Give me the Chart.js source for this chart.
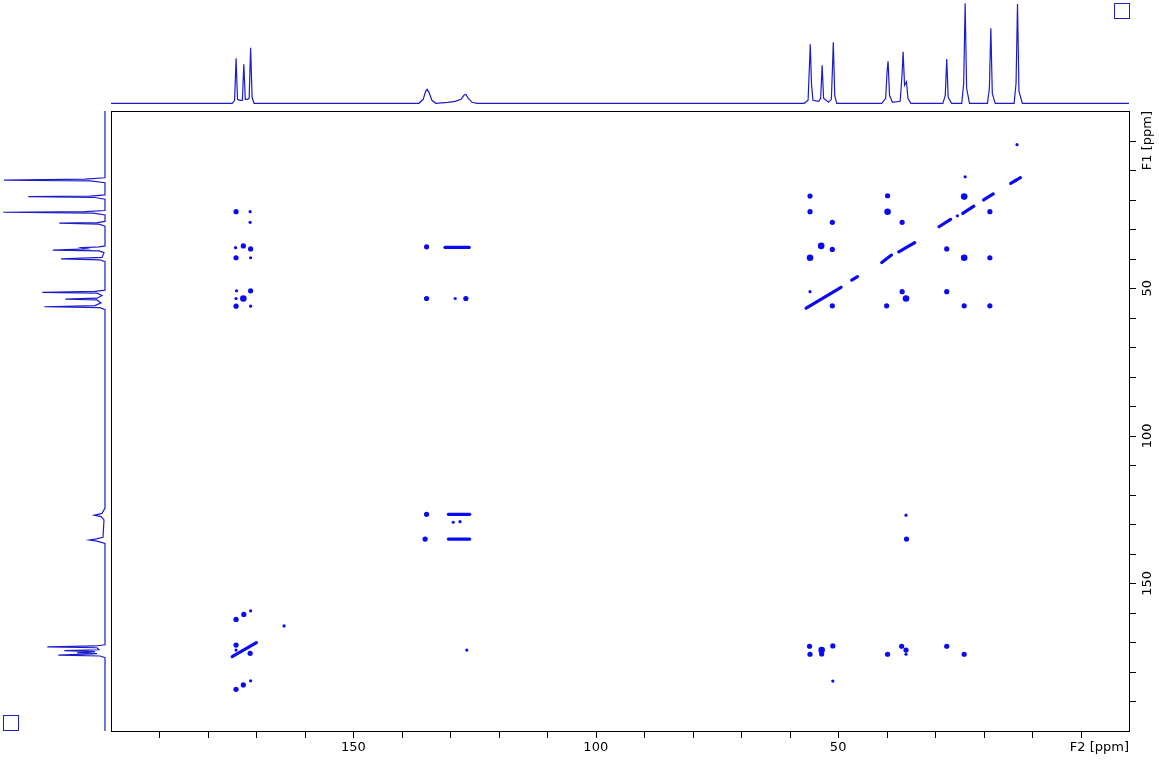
<!DOCTYPE html>
<html>
<head>
<meta charset="utf-8">
<script src="https://cdn.jsdelivr.net/npm/chart.js@4.4.1/dist/chart.umd.min.js"></script>
<style>
  html, body { margin: 0; padding: 0; background: #ffffff; }
  #wrap { position: relative; width: 1159px; height: 760px; overflow: hidden; }
  canvas { position: absolute; }
</style>
</head>
<body>
<div id="wrap">
  <canvas id="main" width="1159" height="760" style="left:0;top:0;"></canvas>
  <canvas id="top" width="1018" height="108" style="left:111px;top:0;"></canvas>
  <canvas id="left" width="111" height="620" style="left:0;top:111px;"></canvas>
</div>
<script>
// ---------------- DATA ----------------
// F2 (horizontal) 1D projection: chemical shift (ppm) and intensity (a.u.)
const f2Ppm = [200, 175.0, 174.5, 174.2, 173.9, 173.4, 172.9, 172.6, 172.3, 171.8, 171.5, 171.2, 170.9, 170.5,
  136.5, 135.6, 135.1, 134.8, 134.4, 133.8, 133.0, 130.5, 129.0, 127.8, 127.2, 126.8, 126.3, 125.5, 124.5,
  57.0, 56.2, 55.9, 55.75, 55.5, 55.2, 54.0, 53.6, 53.3, 53.0, 52.0, 51.4, 51.1, 51.0, 50.7, 50.3,
  41.0, 40.2, 39.9, 39.7, 39.4, 38.8, 37.2, 36.8, 36.6, 36.3, 35.9, 35.6, 35.0,
  28.4, 27.9, 27.6, 27.3, 26.6, 24.5, 24.1, 23.8, 23.5, 22.9, 19.2, 18.8, 18.5, 18.2, 17.6,
  13.7, 13.3, 13.0, 12.7, 12.0, -10];
const f2Int = [0, 0, 3, 45, 4, 3, 3, 39, 4, 4, 5, 55.6, 6, 0,
  0, 4, 12, 14, 11, 3, 0, 1, 2, 4, 8, 9, 5, 1, 0,
  0, 3, 40, 59, 20, 3, 2, 5, 38, 5, 1, 4, 45, 61, 8, 0,
  0, 5, 32, 42, 8, 1, 2, 30, 51.6, 18, 21.6, 5, 0,
  0, 8, 44.3, 6, 0, 0, 20, 100, 15, 0, 0, 15, 75, 10, 0,
  0, 20, 99.3, 12, 0, 0];

// F1 (vertical) 1D projection
const f1Ppm = [-10, 12.6, 13.1, 13.4, 13.7, 14.3, 18.4, 18.8, 19.0, 19.3, 19.9,
  23.7, 24.1, 24.3, 24.6, 25.2, 27.4, 27.8, 28.0, 28.3, 29.0,
  35.7, 36.0, 36.3, 36.7, 37.1, 37.4, 38.0, 39.6, 39.9, 40.1, 40.4, 41.0,
  50.7, 51.1, 51.4, 51.7, 52.5, 53.4, 53.7, 54.0, 55.0, 55.9, 56.3, 56.6, 57.3,
  124.5, 126.3, 126.9, 127.4, 128.5, 134.4, 135.0, 135.3, 135.7, 136.5,
  170.8, 171.2, 171.5, 171.8, 172.5, 172.8, 173.1, 173.5, 173.8, 174.3, 174.6, 175.2, 200];
const f1Int = [0, 0, 20, 101, 15, 0, 0, 15, 76.7, 10, 0,
  0, 20, 101.7, 12, 0, 0, 8, 45.7, 6, 0,
  0, 6, 23.3, 18, 52.3, 6, 1, 3, 30, 44, 5, 0,
  0, 10, 62.7, 8, 3, 8, 39.7, 8, 4, 10, 60.7, 5, 0,
  0, 3, 10.7, 4, 1, 2, 10, 15.7, 8, 0,
  0, 10, 57.7, 8, 6, 40.7, 10, 28, 8, 46.7, 5, 0, 0];

// 2D cross peaks: F2 ppm, F1 ppm, contour level (1 small .. 3 strong)
const crossF2 = [13.1, 23.8, 55.8, 39.8, 24.0, 55.8, 39.8, 18.7, 25.4, 51.2, 36.8, 53.5, 51.2, 55.8, 27.6, 24.0, 18.7,
  55.8, 36.8, 36.0, 27.6, 51.2, 40.0, 24.0, 18.7,
  174.2, 171.3, 171.3, 174.3, 172.7, 171.2, 174.2, 171.2, 134.9,
  174.1, 171.2, 174.2, 172.7, 174.2, 171.2, 134.9, 129.0, 126.8,
  171.2, 172.6, 174.2, 164.3, 174.2, 174.2, 171.3, 126.6, 171.2, 172.7, 174.2,
  134.9, 129.4, 128.0, 135.2,
  36.0, 35.9, 55.9, 51.1, 53.4, 55.8, 53.4, 51.1, 36.9, 36.0, 39.8, 36.0, 27.6, 24.0, 13.4];
const crossF1 = [1.4, 12.3, 18.8, 18.7, 19.0, 24.1, 24.1, 24.1, 25.5, 27.7, 27.7, 35.7, 36.9, 39.7, 36.7, 39.7, 39.7,
  51.2, 51.2, 53.5, 51.2, 56.0, 56.0, 56.0, 56.0,
  24.1, 24.1, 27.7, 36.3, 35.7, 36.7, 39.7, 39.7, 36.0,
  50.9, 50.9, 53.5, 53.5, 56.1, 56.1, 53.5, 53.5, 53.5,
  159.3, 160.5, 162.2, 164.4, 170.9, 172.6, 173.7, 172.6, 183.0, 184.4, 185.9,
  126.6, 129.3, 129.1, 135.0,
  126.9, 135.0, 171.3, 171.2, 172.6, 174.0, 173.9, 183.1, 171.3, 172.6, 174.0, 174.0, 171.3, 174.0, 13.6];
const crossLevel = [1, 1, 2, 2, 3, 2, 3, 2, 1, 2, 2, 3, 2, 3, 2, 3, 2,
  1, 2, 3, 2, 2, 2, 2, 2,
  2, 1, 1, 1, 2, 2, 2, 1, 2,
  1, 2, 1, 3, 2, 1, 2, 1, 2,
  1, 2, 2, 1, 2, 1, 2, 1, 1, 2, 2,
  2, 1, 1, 2,
  1, 2, 2, 2, 3, 2, 2, 1, 2, 2, 2, 1, 2, 2, 1];

// Elongated contours (diagonal ridges and streaks): start and end (F2, F1) in ppm
const ridgeF2a = [14.4, 20.0, 24.3, 29.2, 41.0, 37.5, 47.2, 56.6, 131.1, 130.4, 130.4, 175.0];
const ridgeF1a = [14.5, 20.1, 24.7, 29.2, 41.3, 37.7, 47.3, 56.8, 36.2, 126.6, 135.0, 174.8];
const ridgeF2b = [12.4, 18.0, 22.0, 26.8, 39.0, 34.2, 46.0, 49.4, 126.1, 126.0, 126.0, 170.0];
const ridgeF1b = [12.6, 18.1, 22.2, 26.7, 38.8, 34.6, 46.1, 49.7, 36.2, 126.6, 135.0, 170.1];

// Axis labels
const f2TickLabels = [150, 100, 50];
const f1TickLabels = [50, 100, 150];
const f2Title = 'F2 [ppm]';
const f1Title = 'F1 [ppm]';
const ppmMin = -10, ppmMax = 200, minorStep = 10, minorLast = 190;

// ---------------- STYLE ----------------
const specColor = '#1c1cc8';
const contColor = '#0a0af2';
const FONT = '13px "DejaVu Sans", sans-serif';
const levelRadius = {1: 1.6, 2: 2.6, 3: 3.3};

Chart.defaults.animation = false;
Chart.defaults.font.family = '"DejaVu Sans", sans-serif';

const noLegend = { legend: { display: false }, tooltip: { enabled: false } };

// ---------------- MAIN 2D PLOT ----------------
const crossPts = crossF2.map((v, i) => ({ x: v, y: crossF1[i] }));
const ridgeSets = ridgeF2a.map((v, i) => ({
  type: 'scatter',
  data: [{ x: v, y: ridgeF1a[i] }, { x: ridgeF2b[i], y: ridgeF1b[i] }],
  showLine: true,
  borderColor: contColor,
  borderWidth: 3.2,
  borderCapStyle: 'round',
  pointRadius: 0,
  order: 2
}));

const framePlugin = {
  id: 'nmrFrame',
  afterDraw(chart) {
    const ctx = chart.ctx;
    const a = chart.chartArea;
    const xs = chart.scales.x, ys = chart.scales.y;
    ctx.save();
    ctx.strokeStyle = '#000';
    ctx.lineWidth = 1;
    ctx.strokeRect(Math.round(a.left) + 0.5, Math.round(a.top) + 0.5,
      Math.round(a.right - a.left), Math.round(a.bottom - a.top));
    // ticks
    ctx.beginPath();
    for (let v = 0; v <= minorLast; v += minorStep) {
      const px = Math.round(xs.getPixelForValue(v)) + 0.5;
      ctx.moveTo(px, a.bottom); ctx.lineTo(px, a.bottom + 7);
      const py = Math.round(ys.getPixelForValue(v)) + 0.5;
      ctx.moveTo(a.right, py); ctx.lineTo(a.right + 7, py);
    }
    ctx.stroke();
    ctx.fillStyle = '#000';
    ctx.font = FONT;
    ctx.textBaseline = 'top';
    ctx.textAlign = 'center';
    f2TickLabels.forEach(v => ctx.fillText(String(v), xs.getPixelForValue(v), a.bottom + 10));
    ctx.textAlign = 'right';
    ctx.fillText(f2Title, a.right, a.bottom + 10);
    f1TickLabels.forEach(v => {
      ctx.save();
      ctx.translate(a.right + 19, ys.getPixelForValue(v));
      ctx.rotate(-Math.PI / 2);
      ctx.textAlign = 'center'; ctx.textBaseline = 'middle';
      ctx.fillText(String(v), 0, 0);
      ctx.restore();
    });
    ctx.save();
    ctx.translate(a.right + 19, a.top);
    ctx.rotate(-Math.PI / 2);
    ctx.textAlign = 'right'; ctx.textBaseline = 'middle';
    ctx.fillText(f1Title, 0, 0);
    ctx.restore();
    // corner boxes
    ctx.strokeStyle = '#2020c0';
    ctx.strokeRect(1114.5, 3.5, 15, 15);
    ctx.strokeRect(3.5, 715.5, 15, 15);
    ctx.restore();
  }
};

new Chart(document.getElementById('main'), {
  type: 'scatter',
  data: {
    datasets: [{
      data: crossPts,
      pointStyle: 'circle',
      pointRadius: crossLevel.map(l => levelRadius[l]),
      backgroundColor: contColor,
      borderWidth: 0,
      order: 1
    }].concat(ridgeSets)
  },
  options: {
    responsive: false,
    devicePixelRatio: 1,
    layout: { padding: { left: 111, top: 111, right: 30, bottom: 29 } },
    plugins: noLegend,
    scales: {
      x: { type: 'linear', min: ppmMin, max: ppmMax, reverse: true, display: false },
      y: { type: 'linear', min: ppmMin, max: ppmMax, reverse: true, display: false }
    }
  },
  plugins: [framePlugin]
});

// ---------------- TOP PROJECTION (F2) ----------------
new Chart(document.getElementById('top'), {
  type: 'scatter',
  data: {
    datasets: [{
      data: f2Ppm.map((v, i) => ({ x: v, y: f2Int[i] })),
      showLine: true,
      borderColor: specColor,
      borderWidth: 1.2,
      pointRadius: 0,
      tension: 0
    }]
  },
  options: {
    responsive: false,
    devicePixelRatio: 1,
    layout: { padding: 0 },
    plugins: noLegend,
    scales: {
      x: { type: 'linear', min: ppmMin, max: ppmMax, reverse: true, display: false },
      y: { type: 'linear', min: -4.7, max: 103.3, display: false }
    }
  }
});

// ---------------- LEFT PROJECTION (F1) ----------------
new Chart(document.getElementById('left'), {
  type: 'scatter',
  data: {
    datasets: [{
      data: f1Ppm.map((v, i) => ({ x: f1Int[i], y: v })),
      showLine: true,
      borderColor: specColor,
      borderWidth: 1.2,
      pointRadius: 0,
      tension: 0
    }]
  },
  options: {
    responsive: false,
    devicePixelRatio: 1,
    layout: { padding: 0 },
    plugins: noLegend,
    scales: {
      x: { type: 'linear', min: -6, max: 105, reverse: true, display: false },
      y: { type: 'linear', min: ppmMin, max: ppmMax, reverse: true, display: false }
    }
  }
});
</script>
</body>
</html>
